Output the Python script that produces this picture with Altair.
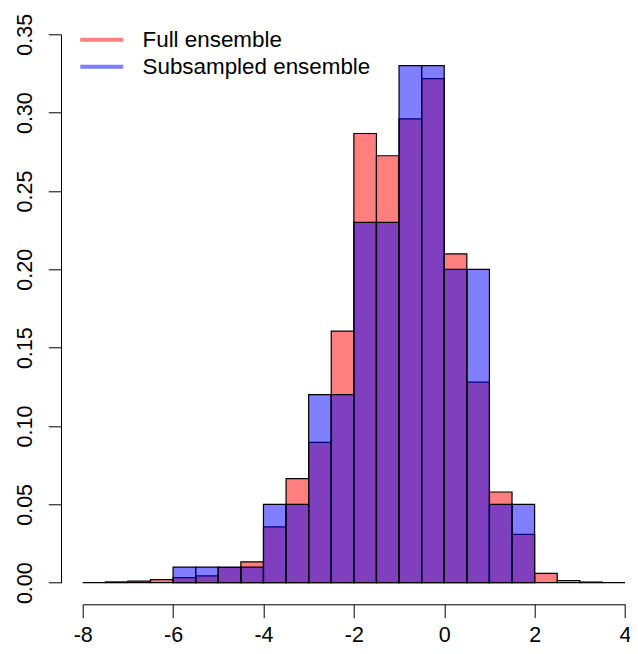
import altair as alt
import pandas as pd

# Full ensemble histogram (density), bins of width 0.5
full_left = [-8.0, -7.5, -7.0, -6.5, -6.0, -5.5, -5.0, -4.5, -4.0, -3.5, -3.0, -2.5,
             -2.0, -1.5, -1.0, -0.5, 0.0, 0.5, 1.0, 1.5, 2.0, 2.5, 3.0, 3.5]
full_density = [0.0, 0.0005, 0.001, 0.002, 0.0033, 0.0043, 0.0097, 0.0133, 0.0356, 0.0664,
                0.0895, 0.1605, 0.2867, 0.2725, 0.296, 0.3217, 0.2098, 0.128, 0.0579,
                0.0309, 0.0059, 0.0014, 0.0004, 0.0]

# Subsampled ensemble histogram (density)
sub_left = [-6.0, -5.5, -5.0, -4.5, -4.0, -3.5, -3.0, -2.5, -2.0, -1.5, -1.0, -0.5,
            0.0, 0.5, 1.0, 1.5]
sub_density = [0.01, 0.01, 0.01, 0.01, 0.05, 0.05, 0.12, 0.12, 0.23, 0.23, 0.33, 0.33,
               0.20, 0.20, 0.05, 0.05]

bin_width = 0.5
series_names = ["Full ensemble", "Subsampled ensemble"]
series_colors = ["#ff0000", "#0000ff"]
x_ticks = [-8, -6, -4, -2, 0, 2, 4]
y_ticks = [0.0, 0.05, 0.10, 0.15, 0.20, 0.25, 0.30, 0.35]

df_full = pd.DataFrame({"x0": full_left,
                        "x1": [v + bin_width for v in full_left],
                        "density": full_density})
df_sub = pd.DataFrame({"x0": sub_left,
                       "x1": [v + bin_width for v in sub_left],
                       "density": sub_density})
df_leg = pd.DataFrame({"series": series_names, "x0": [0.0, 0.0], "density": [0.0, 0.0]})

FONT = "Liberation Sans"
FS = 21.5

xscale = alt.Scale(domain=[-8, 4], nice=False, zero=False)
yscale = alt.Scale(domain=[0, 0.35], nice=False, zero=False)

xaxis = alt.Axis(values=x_ticks, title=None, grid=False, orient="bottom",
                 offset=21.6, tickSize=13.4, domainColor="black", tickColor="black",
                 domainWidth=1, tickWidth=1, labelFont=FONT, labelFontSize=FS,
                 labelColor="black", labelPadding=23.3, labelBaseline="alphabetic",
                 labelFlush=False, labelOverlap=False, labelBound=False,
                 labelExpr="'' + datum.value")
yaxis = alt.Axis(values=y_ticks, title=None, grid=False, orient="left", format=".2f",
                 offset=21.7, tickSize=12.7, domainColor="black", tickColor="black",
                 domainWidth=1, tickWidth=1, labelFont=FONT, labelFontSize=FS,
                 labelColor="black", labelAngle=270, labelAlign="center",
                 labelBaseline="alphabetic", labelPadding=16.6, labelFlush=False,
                 labelOverlap=False, labelBound=False)

red = alt.Chart(df_full).mark_rect(
    fill=series_colors[0], fillOpacity=0.5, stroke="black", strokeWidth=1.2
).encode(
    x=alt.X("x0:Q", scale=xscale, axis=xaxis),
    x2="x1:Q",
    y=alt.Y("density:Q", scale=yscale, axis=yaxis),
    y2=alt.datum(0),
)

blue = alt.Chart(df_sub).mark_rect(
    fill=series_colors[1], fillOpacity=0.5, stroke="black", strokeWidth=1.2
).encode(
    x=alt.X("x0:Q", scale=xscale),
    x2="x1:Q",
    y=alt.Y("density:Q", scale=yscale),
    y2=alt.datum(0),
)

leg = alt.Chart(df_leg).transform_filter("false").mark_line(strokeWidth=4).encode(
    x=alt.X("x0:Q", scale=xscale),
    y=alt.Y("density:Q", scale=yscale),
    stroke=alt.Stroke(
        "series:N",
        scale=alt.Scale(domain=series_names, range=series_colors),
        legend=alt.Legend(
            title=None, orient="none", legendX=6.05, legendY=-7.5, padding=0,
            symbolType="M-2,0H2", symbolSize=462.25, symbolStrokeWidth=4,
            symbolOpacity=0.5, labelFont=FONT, labelFontSize=22.4, labelColor="black",
            labelOffset=27.75, rowPadding=2, labelLimit=0,
        ),
    ),
)

chart = alt.layer(red, blue, leg).properties(
    width=542.3,
    height=548.4,
    padding={"left": 74.7, "top": 26.3, "right": 5, "bottom": 63.3},
    autosize=alt.AutoSizeParams(type="none"),
).configure_view(stroke=None)

chart.save("out.html", embed_options={"renderer": "svg", "actions": False})
